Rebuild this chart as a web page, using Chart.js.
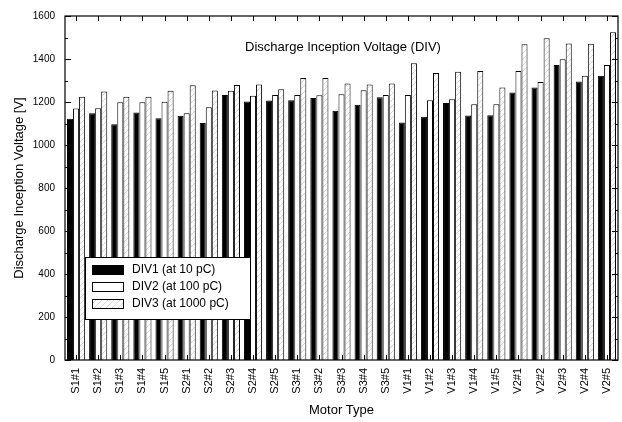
<!DOCTYPE html>
<html>
<head>
<meta charset="utf-8">
<script src="https://cdn.jsdelivr.net/npm/chart.js@4"></script>
<style>
html,body{margin:0;padding:0;background:#fff;}
#wrap{width:622px;height:422px;}
</style>
</head>
<body>
<div id="wrap"><canvas id="c" width="622" height="422"></canvas></div>
<script>
const categories = ["S1#1","S1#2","S1#3","S1#4","S1#5","S2#1","S2#2","S2#3","S2#4","S2#5","S3#1","S3#2","S3#3","S3#4","S3#5","V1#1","V1#2","V1#3","V1#4","V1#5","V2#1","V2#2","V2#3","V2#4","V2#5"];
const div1 = [1122,1148,1097,1151,1124,1136,1102,1233,1202,1207,1208,1219,1159,1187,1222,1105,1131,1195,1137,1138,1244,1267,1372,1295,1322];
const div2 = [1170,1171,1199,1199,1201,1148,1176,1252,1229,1233,1233,1231,1236,1255,1233,1233,1208,1213,1190,1190,1344,1293,1399,1322,1372];
const div3 = [1225,1249,1225,1225,1252,1278,1253,1279,1281,1259,1312,1312,1286,1281,1286,1380,1335,1341,1344,1267,1469,1497,1472,1471,1525];
const seriesNames = ["DIV1 (at 10 pC)","DIV2 (at 100 pC)","DIV3 (at 1000 pC)"];
const yTicks = [0,200,400,600,800,1000,1200,1400,1600];
const chartTitle = "Discharge Inception Voltage (DIV)";

const FONT = "'Liberation Sans', Arial, sans-serif";

function hatch(){
  const c = document.createElement('canvas');
  c.width = 6; c.height = 6;
  const g = c.getContext('2d');
  g.fillStyle = '#fff'; g.fillRect(0,0,6,6);
  g.strokeStyle = '#c4c4c4'; g.lineWidth = 0.7;
  g.beginPath();
  g.moveTo(0,6); g.lineTo(6,0);
  g.moveTo(-3,3); g.lineTo(3,-3);
  g.moveTo(3,9); g.lineTo(9,3);
  g.stroke();
  return g.createPattern(c,'repeat');
}
const hatchPat = hatch();

const framePlugin = {
  id: 'frame',
  afterDatasetsDraw(chart){
    const {ctx, chartArea: a, scales} = chart;
    const x = scales.x, y = scales.y;
    ctx.save();
    ctx.strokeStyle = '#000';
    ctx.lineWidth = 1.2;
    ctx.strokeRect(a.left, a.top, a.right - a.left, a.bottom - a.top);
    ctx.lineWidth = 1;
    ctx.beginPath();
    for (let v = 0; v <= 1600; v += 100){
      const py = Math.round(y.getPixelForValue(v)) + 0.5;
      const len = (v % 200 === 0) ? 6 : 3;
      ctx.moveTo(a.left, py); ctx.lineTo(a.left + len, py);
      ctx.moveTo(a.right, py); ctx.lineTo(a.right - len, py);
    }
    for (let i = 0; i < categories.length; i++){
      const px = Math.round(x.getPixelForValue(i)) + 0.5;
      ctx.moveTo(px, a.top); ctx.lineTo(px, a.top + 5);
      ctx.moveTo(px, a.bottom); ctx.lineTo(px, a.bottom - 5);
    }
    ctx.stroke();

    ctx.fillStyle = '#000';
    ctx.font = '13px ' + FONT;
    ctx.textAlign = 'center';
    ctx.textBaseline = 'middle';
    ctx.fillText(chartTitle, 343, a.top + 31);

    const lx = 85, ly = 257, lw = 165, lh = 62;
    ctx.fillStyle = '#fff';
    ctx.fillRect(lx, ly, lw, lh);
    ctx.strokeStyle = '#000';
    ctx.lineWidth = 1;
    ctx.strokeRect(lx + 0.5, ly + 0.5, lw, lh);
    const ds = chart.data.datasets;
    ctx.font = '12px ' + FONT;
    ctx.textAlign = 'left';
    for (let i = 0; i < ds.length; i++){
      const cy = ly + 12 + i * 17;
      ctx.fillStyle = ds[i].backgroundColor;
      ctx.fillRect(92, cy - 4, 31, 9);
      ctx.strokeStyle = '#000';
      ctx.strokeRect(92.5, cy - 4 + 0.5, 31, 9);
      ctx.fillStyle = '#000';
      ctx.fillText(ds[i].label, 132, cy + 1);
    }
    ctx.restore();
  }
};

new Chart(document.getElementById('c'), {
  type: 'bar',
  data: {
    labels: categories,
    datasets: [
      {label: seriesNames[0], data: div1, backgroundColor: '#000', borderColor: '#000', borderWidth: 1},
      {label: seriesNames[1], data: div2, backgroundColor: '#fff', borderColor: '#000', borderWidth: 1},
      {label: seriesNames[2], data: div3, backgroundColor: hatchPat, borderColor: '#000', borderWidth: 1}
    ]
  },
  options: {
    responsive: false,
    animation: false,
    devicePixelRatio: 1,
    layout: {padding: {left: 0, right: 4, top: 14, bottom: 0}},
    plugins: {legend: {display: false}, tooltip: {enabled: false}, title: {display: false}},
    datasets: {bar: {categoryPercentage: 0.82, barPercentage: 1.0}},
    scales: {
      x: {
        grid: {display: false, drawTicks: false},
        border: {display: false},
        ticks: {
          color: '#000', font: {family: FONT, size: 11},
          minRotation: 90, maxRotation: 90, padding: 8, autoSkip: false
        },
        title: {display: true, text: 'Motor Type', color: '#000', font: {family: FONT, size: 13}, padding: {top: 0, bottom: 4}},
        afterFit(s){ s.height = 62; s.paddingLeft = 0; s.paddingRight = 0; }
      },
      y: {
        min: 0, max: 1600,
        afterBuildTicks(s){ s.ticks = yTicks.map(v => ({value: v})); },
        grid: {display: false, drawTicks: false},
        border: {display: false},
        ticks: {color: '#000', font: {family: FONT, size: 10}, padding: 10, callback: v => String(v)},
        title: {display: true, text: 'Discharge Inception Voltage [V]', color: '#000', font: {family: FONT, size: 13}, padding: {top: 12, bottom: 0}},
        afterFit(s){ s.width = 65; }
      }
    }
  },
  plugins: [framePlugin]
});
</script>
</body>
</html>
